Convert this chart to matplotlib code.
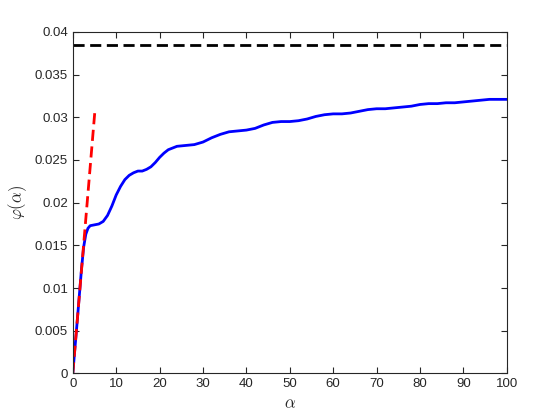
import numpy as np
import matplotlib
matplotlib.use("Agg")
import matplotlib.pyplot as plt

# blue curve phi(alpha)
alpha = [0, 1, 2, 2.5, 3, 3.5, 4, 5, 6, 7, 8, 9, 10, 11, 12, 13, 14, 15, 16,
         17, 18, 19, 20, 21, 22, 23, 24, 26, 28, 30, 32, 34, 36, 38, 40, 42,
         44, 46, 48, 50, 52, 54, 56, 58, 60, 62, 64, 66, 68, 70, 72, 74, 76,
         78, 80, 82, 84, 86, 88, 90, 92, 94, 96, 98, 100]
phi = [0, 0.0060, 0.0122, 0.0148, 0.0163, 0.0170, 0.0173, 0.0174, 0.0175,
       0.0178, 0.0185, 0.0196, 0.0209, 0.0219, 0.0227, 0.0232, 0.0235,
       0.0237, 0.0237, 0.0239, 0.0242, 0.0247, 0.0253, 0.0258, 0.0262,
       0.0264, 0.0266, 0.0267, 0.0268, 0.0271, 0.0276, 0.0280, 0.0283,
       0.0284, 0.0285, 0.0287, 0.0291, 0.0294, 0.0295, 0.0295, 0.0296,
       0.0298, 0.0301, 0.0303, 0.0304, 0.0304, 0.0305, 0.0307, 0.0309,
       0.0310, 0.0310, 0.0311, 0.0312, 0.0313, 0.0315, 0.0316, 0.0316,
       0.0317, 0.0317, 0.0318, 0.0319, 0.0320, 0.0321, 0.0321, 0.0321]

# red dashed tangent at the origin
tan_x = [0, 5.1]
tan_y = [0, 0.0308]

# black dashed asymptote
limit_x = [0, 100]
limit_y = [0.0385, 0.0385]

xticks = [0, 10, 20, 30, 40, 50, 60, 70, 80, 90, 100]
yticks = [0, 0.005, 0.01, 0.015, 0.02, 0.025, 0.03, 0.035, 0.04]
ytick_labels = ["0", "0.005", "0.01", "0.015", "0.02", "0.025", "0.03",
                "0.035", "0.04"]

plt.rcParams["font.family"] = ["Liberation Sans", "DejaVu Sans"]
plt.rcParams["mathtext.fontset"] = "cm"

fig = plt.figure(figsize=(5.6, 4.2), dpi=100)
ax = fig.add_axes([0.13, 0.111, 0.775, 0.813])

ax.plot(alpha, phi, color="blue", lw=2.0, solid_joinstyle="round")
ax.plot(tan_x, tan_y, color="red", lw=2, linestyle=(0, (4, 2)))
ax.plot(limit_x, limit_y, color="black", lw=2, linestyle=(0, (4, 2)))

ax.set_xlim(0, 100)
ax.set_ylim(0, 0.04)
ax.set_xticks(xticks)
ax.set_yticks(yticks)
ax.set_yticklabels(ytick_labels)

grey = "#262626"
for s in ax.spines.values():
    s.set_color(grey)
    s.set_linewidth(0.8)
ax.tick_params(direction="in", top=True, right=True, length=4,
               width=0.8, color=grey, labelcolor=grey, labelsize=9.5)

ax.set_xlabel(r"$\alpha$", fontsize=12, color=grey)
ax.set_ylabel(r"$\varphi(\alpha)$", fontsize=12, color=grey)

fig.savefig("out.png", dpi=100)
